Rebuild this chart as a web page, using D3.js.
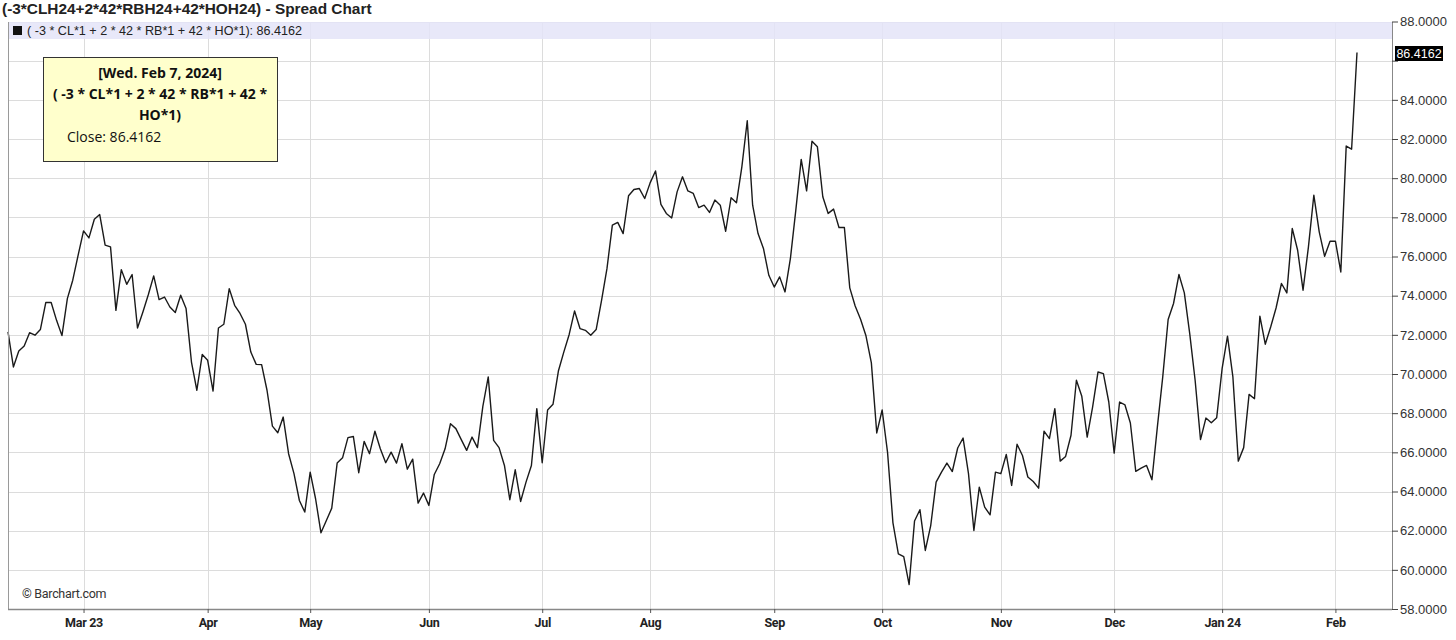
<!DOCTYPE html>
<html>
<head>
<meta charset="utf-8">
<script src="https://cdn.jsdelivr.net/npm/d3@7"></script>
<style>
  html, body { margin: 0; padding: 0; background: #fff; }
  svg { display: block; }
</style>
</head>
<body>
<svg id="chart" width="1456" height="640"></svg>
<script>
// ---------------- DATA ----------------
const startDate = "2023-02-08";
const endDate = "2024-02-07";
const marketHolidays = ["2023-02-20","2023-04-07","2023-05-29","2023-06-19","2023-07-04",
  "2023-09-04","2023-11-23","2023-12-25","2024-01-01","2024-01-15"];

const closes = [
  72.15, 70.36, 71.17, 71.43, 72.11, 71.98, 72.27, 73.65, 73.65, 72.74,
  71.96, 73.85, 74.79, 76.07, 77.31, 76.95, 77.90, 78.14, 76.58, 76.49,
  73.25, 75.33, 74.58, 75.08, 72.35, 73.17, 74.05, 75.01, 73.80, 73.93,
  73.42, 73.14, 74.02, 73.34, 70.61, 69.17, 71.00, 70.70, 69.13, 72.35,
  72.54, 74.36, 73.51, 73.09, 72.54, 71.12, 70.49, 70.48, 69.17, 67.34,
  67.00, 67.80, 65.93, 64.91, 63.54, 62.95, 64.99, 63.63, 61.89, 62.52,
  63.15, 65.45, 65.72, 66.75, 66.81, 64.96, 66.56, 65.93, 67.08, 66.18,
  65.47, 66.01, 65.45, 66.44, 65.14, 65.65, 63.41, 63.92, 63.29, 64.87,
  65.42, 66.18, 67.46, 67.21, 66.65, 66.10, 66.78, 66.24, 68.35, 69.85,
  66.61, 66.24, 65.33, 63.58, 65.11, 63.49, 64.48, 65.33, 68.23, 65.47,
  68.16, 68.45, 70.15, 71.12, 72.02, 73.22, 72.32, 72.23, 71.98, 72.27,
  73.76, 75.38, 77.60, 77.74, 77.17, 79.10, 79.42, 79.47, 78.96, 79.76,
  80.37, 78.66, 78.20, 77.97, 79.30, 80.07, 79.35, 79.22, 78.50, 78.62,
  78.25, 78.88, 78.62, 77.29, 79.00, 78.74, 80.58, 82.93, 78.62, 77.17,
  76.41, 75.04, 74.44, 74.96, 74.19, 75.90, 78.37, 80.96, 79.35, 81.89,
  81.60, 79.05, 78.20, 78.42, 77.48, 77.48, 74.40, 73.47, 72.80, 71.95,
  70.57, 66.99, 68.16, 66.00, 62.40, 60.82, 60.68, 59.25, 62.49, 63.07,
  60.99, 62.26, 64.48, 64.99, 65.45, 65.02, 66.22, 66.73, 64.91, 62.01,
  64.22, 63.20, 62.81, 64.99, 64.91, 65.89, 64.31, 66.41, 65.84, 64.74,
  64.51, 64.17, 67.08, 66.70, 68.23, 65.55, 65.79, 66.87, 69.68, 68.86,
  66.78, 68.31, 70.10, 70.02, 68.57, 65.96, 68.57, 68.42, 67.50, 65.03,
  65.19, 65.33, 64.60, 67.29, 69.85, 72.78, 73.60, 75.08, 74.14, 72.06,
  69.68, 66.65, 67.75, 67.51, 67.77, 70.27, 71.93, 69.85, 65.55, 66.24,
  68.96, 68.74, 72.95, 71.52, 72.40, 73.37, 74.62, 74.14, 77.43, 76.32,
  74.28, 76.49, 79.13, 77.26, 76.01, 76.78, 76.78, 75.21, 81.64, 81.48,
  86.4162
];

const monthTickLabels = ["Mar 23","Apr","May","Jun","Jul","Aug","Sep","Oct","Nov","Dec","Jan 24","Feb"];
const yTickValues = [58,60,62,64,66,68,70,72,74,76,78,80,82,84,86,88];

const titleText = "(-3*CLH24+2*42*RBH24+42*HOH24) - Spread Chart";
const legendText = "( -3 * CL*1 + 2 * 42 * RB*1 + 42 * HO*1): 86.4162";
const tooltipLines = ["[Wed. Feb 7, 2024]", "( -3 * CL*1 + 2 * 42 * RB*1 + 42 *", "HO*1)"];
const tooltipClose = "Close: 86.4162";
const lastLabel = "86.4162";

// ---------------- TRADING DAYS ----------------
const parse = d3.utcParse("%Y-%m-%d");
const fmt = d3.utcFormat("%Y-%m-%d");
const hol = new Set(marketHolidays);
const dates = d3.utcDays(parse(startDate), d3.utcDay.offset(parse(endDate), 1))
  .filter(d => d.getUTCDay() !== 0 && d.getUTCDay() !== 6 && !hol.has(fmt(d)));
const data = closes.map((v, i) => ({ i, date: dates[i], v }));

const monthTicks = [];
for (let i = 1; i < dates.length; i++) {
  if (dates[i].getUTCMonth() !== dates[i-1].getUTCMonth()) monthTicks.push(i);
}

// ---------------- LAYOUT ----------------
const L = 8, R = 1392, T = 22, B = 609;
const svg = d3.select("#chart");
svg.append("rect").attr("width", 1456).attr("height", 640).attr("fill", "#fff");

const x = d3.scaleLinear().domain([0, closes.length - 1]).range([L, 1357]);
const y = d3.scaleLinear().domain([58, 88]).range([B, 21.5]);

// gridlines
const grid = svg.append("g");
grid.selectAll("line.h").data(yTickValues.filter(v => v > 58)).join("line")
  .attr("x1", L).attr("x2", R)
  .attr("y1", d => Math.round(y(d)) + 0.5).attr("y2", d => Math.round(y(d)) + 0.5)
  .attr("stroke", "#dcdcdc").attr("stroke-width", 1);
grid.selectAll("line.v").data(monthTicks).join("line")
  .attr("x1", d => Math.round(x(d)) + 0.5).attr("x2", d => Math.round(x(d)) + 0.5)
  .attr("y1", T).attr("y2", B)
  .attr("stroke", "#dcdcdc").attr("stroke-width", 1);

// legend bar
svg.append("rect").attr("x", L).attr("y", T).attr("width", R - L).attr("height", 17)
  .attr("fill", "#e4e4f8").attr("fill-opacity", 0.85);
svg.append("rect").attr("x", 13).attr("y", 26).attr("width", 9).attr("height", 9).attr("fill", "#111");
svg.append("text").attr("x", 27).attr("y", 35)
  .attr("font-family", "Liberation Sans, Arial, sans-serif").attr("font-size", 12.6)
  .attr("fill", "#222").text(legendText);

// line
const line = d3.line().x(d => x(d.i)).y(d => y(d.v));
svg.append("path").datum(data).attr("d", line)
  .attr("fill", "none").attr("stroke", "#1a1a1a").attr("stroke-width", 1.4)
  .attr("stroke-linejoin", "round");

// frame
svg.append("line").attr("x1", L + 0.5).attr("x2", L + 0.5).attr("y1", T).attr("y2", B)
  .attr("stroke", "#9a9a9a");

// bottom axis
const xAxis = d3.axisBottom(x).tickValues(monthTicks)
  .tickFormat((d, k) => monthTickLabels[k]).tickSize(4).tickSizeOuter(0);
const gx = svg.append("g").attr("transform", `translate(0,${B})`).call(xAxis);
gx.select(".domain").attr("d", `M${L},0.5H${R}`).attr("stroke", "#888").attr("stroke-width", 1.5);
gx.selectAll(".tick line").attr("stroke", "#555");
gx.selectAll(".tick text").attr("y", 9)
  .attr("font-family", "Roboto, Liberation Sans, Arial, sans-serif")
  .attr("font-size", 12.5).attr("font-weight", "bold").attr("fill", "#222")
  .attr("letter-spacing", "-0.3px");

// right axis
const yAxis = d3.axisRight(y).tickValues(yTickValues).tickFormat(d3.format(".4f"))
  .tickSize(6).tickSizeOuter(0);
const gy = svg.append("g").attr("transform", `translate(${R},0)`).call(yAxis);
gy.select(".domain").attr("d", `M0.5,${T}V${B}`).attr("stroke", "#888");
gy.selectAll(".tick line").attr("stroke", "#444");
gy.selectAll(".tick text").attr("x", 8)
  .attr("font-family", "Liberation Sans, Arial, sans-serif").attr("font-size", 13)
  .attr("fill", "#333")
  .style("display", d => d === 86 ? "none" : null);

// last price label
svg.append("rect").attr("x", 1395).attr("y", 46).attr("width", 48).attr("height", 15).attr("fill", "#000");
svg.append("text").attr("x", 1419).attr("y", 58).attr("text-anchor", "middle")
  .attr("font-family", "Liberation Sans, Arial, sans-serif").attr("font-size", 12.5)
  .attr("fill", "#fff").text(lastLabel);

// title
svg.append("text").attr("x", 2).attr("y", 14)
  .attr("font-family", "Liberation Sans, Arial, sans-serif").attr("font-size", 15.4)
  .attr("font-weight", "bold").attr("fill", "#222").text(titleText);

// watermark
svg.append("text").attr("x", 22).attr("y", 598)
  .attr("font-family", "Roboto, Liberation Sans, Arial, sans-serif").attr("font-size", 12.5)
  .attr("fill", "#333").attr("letter-spacing", "-0.3px").text("\u00A9 Barchart.com");

// tooltip
const tip = svg.append("g");
tip.append("rect").attr("x", 43.5).attr("y", 57.5).attr("width", 234).attr("height", 104)
  .attr("fill", "#ffffcc").attr("stroke", "#333");
tip.selectAll("text.b").data(tooltipLines).join("text")
  .attr("x", 160).attr("y", (d, k) => 78 + k * 21).attr("text-anchor", "middle")
  .attr("font-family", "Open Sans, Noto Sans, sans-serif").attr("font-size", 14)
  .attr("font-weight", "bold").attr("fill", "#111").text(d => d);
tip.append("text").attr("x", 67).attr("y", 142)
  .attr("font-family", "Open Sans, Noto Sans, sans-serif").attr("font-size", 14)
  .attr("fill", "#111").text(tooltipClose);
</script>
</body>
</html>
